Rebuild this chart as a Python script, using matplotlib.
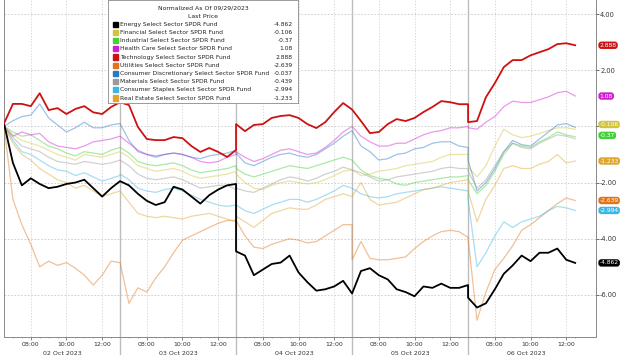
import numpy as np
import matplotlib
matplotlib.use("Agg")
import matplotlib.pyplot as plt
import matplotlib.transforms as mtransforms

# ------------------------------------------------------------
# Data: % change normalized to 09/29/2023, sampled every 30 min
# (06:30 -> 13:00 each session, last session stops at 12:30)
# ------------------------------------------------------------
days = ["02 Oct 2023", "03 Oct 2023", "04 Oct 2023", "05 Oct 2023", "06 Oct 2023"]
minutes_full = [0, 30, 60, 90, 120, 150, 180, 210, 240, 270, 300, 330, 360, 390]
minutes_last = [0, 30, 60, 90, 120, 150, 180, 210, 240, 270, 300, 330, 360]
session_len = 390

energy = [0.1, -1.3, -2.1, -1.85, -2.05, -2.2, -2.15, -2.05, -2.0, -1.9, -2.2, -2.5, -2.2, -1.95,
          -1.95, -2.1, -2.4, -2.65, -2.8, -2.7, -2.15, -2.25, -2.5, -2.75, -2.45, -2.25, -2.1, -2.05,
          -4.45, -4.6, -5.3, -5.1, -4.9, -4.85, -4.6, -5.2, -5.55, -5.85, -5.8, -5.7, -5.5, -5.95,
          -5.95, -5.15, -5.05, -5.3, -5.45, -5.8, -5.9, -6.05, -5.7, -5.75, -5.6, -5.75, -5.75, -5.65,
          -6.1, -6.45, -6.3, -5.8, -5.25, -4.95, -4.6, -4.8, -4.5, -4.5, -4.35, -4.75, -4.862]
financial = [0.0, -0.3, -0.5, -0.6, -0.7, -0.85, -1.0, -1.1, -1.2, -1.0, -1.05, -1.1, -1.0, -0.9,
             -0.9, -1.1, -1.4, -1.5, -1.6, -1.55, -1.5, -1.6, -1.75, -1.85, -1.8, -1.75, -1.7, -1.6,
             -1.7, -2.0, -2.2, -2.25, -2.1, -2.0, -1.95, -2.0, -2.05, -2.0, -1.9, -1.75, -1.6, -1.55,
             -1.55, -1.75, -1.7, -1.6, -1.55, -1.5, -1.4, -1.35, -1.3, -1.25, -1.1, -1.0, -1.0, -1.0,
             -1.45, -1.8, -1.4, -0.7, -0.1, -0.3, -0.4, -0.35, -0.25, -0.15, -0.05, -0.05, -0.106]
industrial = [0.0, -0.2, -0.35, -0.3, -0.5, -0.7, -0.8, -0.95, -1.05, -0.9, -0.95, -1.0, -0.85, -0.75,
              -0.75, -0.95, -1.25, -1.35, -1.4, -1.35, -1.3, -1.4, -1.55, -1.65, -1.6, -1.55, -1.5, -1.4,
              -1.5, -1.7, -1.8, -1.7, -1.6, -1.5, -1.4, -1.45, -1.5, -1.4, -1.3, -1.2, -1.1, -1.2,
              -1.2, -1.55, -1.75, -1.85, -1.9, -2.05, -2.1, -2.0, -1.95, -1.9, -1.85, -1.8, -1.8, -1.75,
              -1.9, -2.4, -2.1, -1.6, -1.0, -0.6, -0.7, -0.75, -0.55, -0.4, -0.2, -0.3, -0.37]
health = [0.0, -0.35, -0.2, -0.3, -0.25, -0.55, -0.7, -0.75, -0.8, -0.7, -0.55, -0.5, -0.45, -0.35,
          -0.35, -0.6, -0.85, -1.0, -1.05, -1.0, -0.95, -1.0, -1.1, -1.25, -1.3, -1.25, -1.1, -1.0,
          -0.9, -1.1, -1.25, -1.15, -1.0, -0.85, -0.8, -0.9, -1.0, -0.95, -0.75, -0.5, -0.2, 0.0,
          0.0, -0.35, -0.55, -0.7, -0.7, -0.6, -0.6, -0.45, -0.3, -0.2, -0.15, -0.05, -0.05, 0.0,
          -0.05, -0.1, 0.15, 0.35, 0.7, 0.9, 0.85, 0.85, 0.95, 1.05, 1.2, 1.25, 1.08]
technology = [0.1, 0.8, 0.8, 0.72, 1.18, 0.58, 0.65, 0.44, 0.62, 0.72, 0.5, 0.44, 0.69, 0.86,
              0.86, 0.76, -0.02, -0.45, -0.49, -0.49, -0.38, -0.42, -0.7, -0.91, -0.77, -0.91, -1.09, -0.84,
              0.08, -0.17, 0.05, 0.08, 0.3, 0.37, 0.4, 0.3, 0.08, -0.06, 0.15, 0.51, 0.83, 0.6,
              0.6, 0.19, -0.24, -0.2, 0.08, 0.26, 0.19, 0.3, 0.51, 0.69, 0.9, 0.86, 0.79, 0.79,
              0.15, 0.19, 1.04, 1.54, 2.11, 2.36, 2.36, 2.53, 2.64, 2.75, 2.93, 2.96, 2.888]
utilities = [0.0, -2.6, -3.5, -4.2, -5.0, -4.8, -4.95, -4.85, -5.05, -5.3, -5.65, -5.3, -4.8, -4.85,
             -4.85, -6.3, -5.75, -5.9, -5.4, -5.0, -4.5, -4.05, -3.9, -3.75, -3.6, -3.45, -3.35, -3.35,
             -3.35, -3.9, -4.3, -4.35, -4.2, -4.1, -4.0, -4.05, -4.15, -4.1, -3.9, -3.7, -3.5, -3.5,
             -4.75, -4.1, -4.7, -4.75, -4.75, -4.7, -4.65, -4.35, -4.1, -3.9, -3.75, -3.7, -3.75, -3.95,
             -4.0, -6.9, -5.9, -5.1, -4.7, -4.25, -3.7, -3.5, -3.25, -3.0, -2.75, -2.55, -2.639]
discretionary = [0.0, 0.2, 0.35, 0.4, 0.8, 0.3, 0.05, -0.2, -0.05, 0.15, -0.05, -0.05, 0.05, 0.1,
                 0.1, -0.5, -0.9, -1.0, -1.1, -1.0, -0.95, -1.0, -1.1, -1.15, -1.05, -1.0, -0.95, -0.85,
                 -0.95, -1.3, -1.4, -1.25, -1.1, -1.0, -0.95, -1.05, -1.1, -1.0, -0.8, -0.6, -0.35, -0.15,
                 -0.15, -0.7, -0.9, -1.2, -1.15, -1.0, -0.95, -0.8, -0.75, -0.6, -0.55, -0.55, -0.7, -0.75,
                 -1.2, -2.3, -2.0, -1.5, -0.9, -0.5, -0.65, -0.7, -0.45, -0.2, 0.05, 0.1, -0.037]
materials = [0.0, -0.4, -0.7, -0.8, -0.9, -1.1, -1.25, -1.3, -1.35, -1.25, -1.3, -1.35, -1.3, -1.2,
             -1.2, -1.4, -1.7, -1.85, -1.9, -1.85, -1.8, -1.9, -2.05, -2.2, -2.15, -2.1, -2.1, -2.25,
             -2.2, -2.3, -2.35, -2.2, -2.05, -1.9, -1.8, -1.85, -1.95, -1.85, -1.7, -1.6, -1.45, -1.55,
             -1.55, -1.65, -1.8, -1.95, -1.9, -1.8, -1.75, -1.7, -1.65, -1.6, -1.5, -1.45, -1.5, -1.5,
             -1.6, -2.2, -1.9, -1.4, -0.9, -0.6, -0.75, -0.8, -0.6, -0.45, -0.3, -0.35, -0.439]
staples = [0.0, -0.5, -0.9, -1.0, -1.2, -1.4, -1.55, -1.6, -1.75, -1.65, -1.8, -1.95, -1.85, -1.75,
           -1.7, -1.9, -2.2, -2.3, -2.35, -2.25, -2.2, -2.3, -2.45, -2.6, -2.7, -2.8, -2.85, -2.8,
           -2.8, -3.0, -3.1, -2.95, -2.8, -2.7, -2.6, -2.6, -2.7, -2.6, -2.45, -2.3, -2.1, -2.2,
           -2.2, -2.4, -2.5, -2.55, -2.5, -2.4, -2.35, -2.3, -2.25, -2.2, -2.15, -2.2, -2.25, -2.3,
           -2.6, -5.0, -4.5, -3.9, -3.4, -3.6, -3.4, -3.3, -3.2, -3.0, -2.85, -2.9, -2.994]
real_estate = [0.0, -0.6, -1.0, -1.2, -1.5, -1.7, -1.9, -2.0, -2.2, -2.1, -2.3, -2.5, -2.4, -2.3,
               -2.3, -2.7, -3.1, -3.2, -3.25, -3.2, -3.25, -3.3, -3.2, -3.15, -3.1, -3.2, -3.3, -3.4,
               -3.2, -3.4, -3.6, -3.35, -3.1, -3.0, -2.9, -2.95, -2.95, -2.8, -2.6, -2.5, -2.4, -2.5,
               -2.5, -2.0, -2.6, -2.8, -2.75, -2.7, -2.55, -2.4, -2.25, -2.2, -2.1, -2.0, -1.95, -1.9,
               -2.3, -3.4, -2.6, -2.1, -1.5, -1.4, -1.5, -1.5, -1.35, -1.25, -1.0, -1.3, -1.233]

names = ["Energy Select Sector SPDR Fund", "Financial Select Sector SPDR Fund",
         "Industrial Select Sector SPDR Fund", "Health Care Select Sector SPDR Fund",
         "Technology Select Sector SPDR Fund", "Utilities Select Sector SPDR Fund",
         "Consumer Discretionary Select Sector SPDR Fund", "Materials Select Sector SPDR Fund",
         "Consumer Staples Select Sector SPDR Fund", "Real Estate Select Sector SPDR Fund"]
last_price = ["-4.862", "-0.106", "-0.37", "1.08", "2.888", "-2.639", "-0.037", "-0.439", "-2.994", "-1.233"]
series = [energy, financial, industrial, health, technology, utilities,
          discretionary, materials, staples, real_estate]
colors = ["#000000", "#d2c43c", "#44d03a", "#d21ed2", "#cc1212", "#e07418",
          "#2a78c6", "#9a9a9a", "#3cb6e6", "#e0a42c"]

# time axis: sessions glued together (minutes since first open)
t = [k * session_len + m for k in range(4) for m in minutes_full]
t += [4 * session_len + m for m in minutes_last]
t = np.array(t)

# ------------------------------------------------------------
W, H = 620, 355
fig = plt.figure(figsize=(W / 100, H / 100), dpi=100)
ax = fig.add_axes([4 / W, 18 / H, 592 / W, 337 / H])

def fx(px):
    return px / W

def fy(py):
    return 1 - py / H

# faint lines first, black and red on top
order = [1, 2, 3, 5, 6, 7, 8, 9, 0, 4]
for i in order:
    if i in (0, 4):
        ax.plot(t, series[i], color=colors[i], lw=1.3, zorder=5)
    else:
        ax.plot(t, series[i], color=colors[i], lw=0.9, alpha=0.45, zorder=3)

ax.set_xlim(0, 1990)
ax.set_ylim(-7.5, 4.5)

# y axis on the right
ax.yaxis.tick_right()
yt = [4, 2, 0, -2, -4, -6]
ax.set_yticks(yt)
ax.set_yticklabels(["4.00", "2.00", "", "-2.00", "-4.00", "-6.00"], fontsize=4.8, color="#333333")
ax.tick_params(axis="y", length=2, width=0.6, pad=1, colors="#555555", labelcolor="#333333")
for v in yt:
    ax.axhline(v, color="#c8c8c8", lw=0.6, ls=(0, (2, 2)), zorder=1)

# x axis: time ticks inside each session
xt, xl = [], []
for k in range(5):
    for m, lab in [(90, "08:00"), (210, "10:00"), (330, "12:00")]:
        xt.append(k * session_len + m)
        xl.append(lab)
ax.set_xticks(xt)
ax.set_xticklabels(xl, fontsize=4.5, color="#333333")
ax.set_xticks([k * session_len + m for k in range(5) for m in range(30, 390, 30)], minor=True)
ax.tick_params(axis="x", length=2, width=0.5, pad=1.5, colors="#555555", labelcolor="#333333")
ax.tick_params(axis="x", which="minor", length=1, width=0.4, colors="#777777")
for v in xt:
    ax.axvline(v, color="#cfcfcf", lw=0.6, ls=(0, (1.5, 2)), zorder=1)

# session separators reaching down through the labels
for k in range(1, 5):
    ax.axvline(k * session_len, ymin=-18 / 337, ymax=1, color="#bdbdbd", lw=1.0,
               zorder=2, clip_on=False)
for k, d in enumerate(days):
    ax.text(k * session_len + 195, -0.043, d, transform=ax.get_xaxis_transform(),
            ha="center", va="top", fontsize=4.5, color="#333333")

ax.spines["top"].set_visible(False)
for s in ["left", "right", "bottom"]:
    ax.spines[s].set_color("#888888")
    ax.spines[s].set_linewidth(0.7)

# right side last-value tags (the -0.037 / -0.439 tags sit hidden under the others)
trans = mtransforms.blended_transform_factory(ax.transAxes, ax.transData)
tag_order = [1, 2, 3, 4, 9, 5, 8, 0]
nudge = {1: 3.5, 2: 1.0}   # points, lift the crowded tags around zero
for i in tag_order:
    tr = trans + mtransforms.ScaledTranslation(0, nudge.get(i, 0) / 72, fig.dpi_scale_trans)
    ax.text(1.006, series[i][-1], last_price[i], transform=tr, ha="left", va="center",
            fontsize=4.3, color="white", clip_on=False, zorder=10,
            bbox=dict(boxstyle="round,pad=0.2,rounding_size=0.5", fc=colors[i], ec="none"))

# legend block
lx0, lx1, ly0, ly1 = 108, 298, 0, 103
ax_leg = fig.add_axes([fx(lx0), fy(ly1), (lx1 - lx0) / W, (ly1 - ly0) / H])
ax_leg.set_xlim(lx0, lx1)
ax_leg.set_ylim(ly1, ly0)
ax_leg.set_xticks([])
ax_leg.set_yticks([])
ax_leg.set_facecolor("white")
for s in ax_leg.spines.values():
    s.set_color("#9a9a9a")
    s.set_linewidth(0.7)
ax_leg.text(203, 8, "Normalized As Of 09/29/2023", ha="center", va="center", fontsize=4.4, color="#222222")
ax_leg.text(203, 16.7, "Last Price", ha="center", va="center", fontsize=4.4, color="#222222")
for i, (nm, lp) in enumerate(zip(names, last_price)):
    yy = 24.3 + i * 8.19
    ax_leg.add_patch(plt.Rectangle((112.5, yy - 2.6), 5.2, 5.2, color=colors[i]))
    ax_leg.text(120.5, yy, nm, ha="left", va="center", fontsize=4.3, color="#222222")
    ax_leg.text(293, yy, lp, ha="right", va="center", fontsize=4.3, color="#222222")

plt.savefig("out.png", dpi=100)
